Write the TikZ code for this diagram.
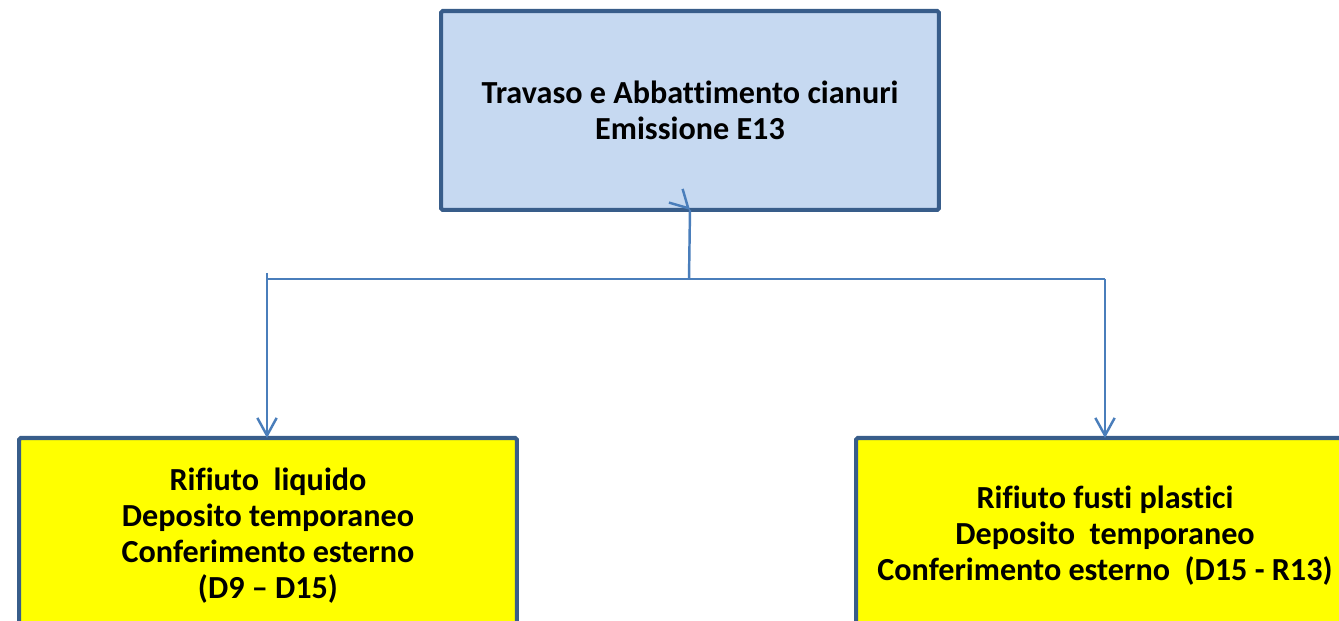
\documentclass[tikz,border=0pt]{standalone}
\usepackage{fontspec}
\setmainfont{Carlito}[Ligatures=NoCommon]
\usetikzlibrary{arrows.meta, positioning}
\definecolor{boxblue}{HTML}{C6D9F1}
\definecolor{edgeblue}{HTML}{385D8A}
\definecolor{lineblue}{HTML}{4A7EBB}
\definecolor{wasteyellow}{RGB}{255,255,0}
\tikzset{
  phase/.style={
    minimum width=9.96cm,
    minimum height=3.98cm,
    align=center,
    draw=edgeblue,
    line width=2.3pt,
    fill=boxblue,
    rounded corners=1pt,
    outer sep=0pt,
    font=\fontsize{18.3}{20.5}\selectfont\bfseries
  },
  waste/.style={phase, fill=wasteyellow, minimum height=3.92cm},
  link/.style={draw=lineblue, line width=1.4pt},
  arrow/.style={link, -{Straight Barb[length=10pt,width=11pt]}}
}
\begin{document}
\begin{tikzpicture}[x=0.02cm, y=-0.02cm]
  \useasboundingbox (0,0) rectangle (1339,621);
  \node (treat) [phase] at (690,110.5) {Travaso e Abbattimento cianuri \\ Emissione E13};
  \node (liquid) [waste] at (268,536) {Rifiuto\ \ liquido \\ Deposito temporaneo \\
    Conferimento esterno \\ (D9 -- D15)};
  \node (drums) [waste] at (1105,536) {Rifiuto fusti plastici \\ Deposito\ \ temporaneo \\
    Conferimento esterno\ \ (D15 - R13)};
  \coordinate (hub) at (689,279);
  \coordinate (tail) at (267,273);
  % splitter under the top box
  \path [link] (hub) -- (treat.south);
  \path [arrow] ([shift={(-3,-3)}]treat.south) -- (treat.south);
  \path [link] (tail |- hub) -- (drums.north |- hub);
  \path
  (tail) edge [arrow] (tail |- liquid.north)
  (drums.north |- hub) edge [arrow] (drums.north)
  ;
\end{tikzpicture}
\end{document}
